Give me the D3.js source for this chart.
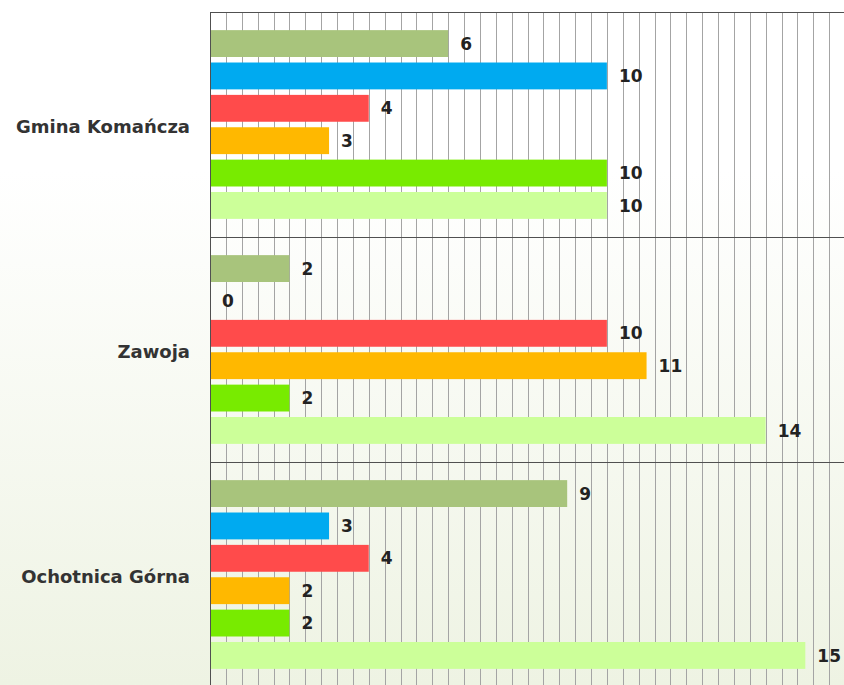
<!DOCTYPE html>
<html>
<head>
<meta charset="utf-8">
<script src="https://cdn.jsdelivr.net/npm/d3@7"></script>
<style>
  html, body { margin: 0; padding: 0; overflow: hidden; }
  body { width: 844px; height: 685px; }
</style>
</head>
<body>
<div id="chart"></div>
<script>
const width = 844;
const height = 685;

const categories = ["Gmina Komańcza", "Zawoja", "Ochotnica Górna"];
const seriesNames = ["Seria 1", "Seria 2", "Seria 3", "Seria 4", "Seria 5", "Seria 6"];
const series1 = [6, 2, 9];
const series2 = [10, 0, 3];
const series3 = [4, 10, 4];
const series4 = [3, 11, 2];
const series5 = [10, 2, 2];
const series6 = [10, 14, 15];
const allSeries = [series1, series2, series3, series4, series5, series6];
const colors = ["#a8c47c", "#00aaf0", "#ff4b4b", "#ffb800", "#78eb00", "#ccff99"];

const xMax = 16;
const gridStep = 0.4;

const svg = d3.select("#chart")
    .append("svg")
    .attr("width", width)
    .attr("height", height);

// background gradient, white on top fading to a pale green
const grad = svg.append("defs").append("linearGradient")
    .attr("id", "bg")
    .attr("x1", 0).attr("y1", 0).attr("x2", 0).attr("y2", 1);
grad.append("stop").attr("offset", "0%").attr("stop-color", "#ffffff");
grad.append("stop").attr("offset", "25%").attr("stop-color", "#ffffff");
grad.append("stop").attr("offset", "100%").attr("stop-color", "#eef3e3");

svg.append("rect")
    .attr("width", width)
    .attr("height", height)
    .attr("fill", "url(#bg)");

const xScale = d3.scaleLinear()
    .domain([0, xMax])
    .range([210, 845]);

const yGroup = d3.scaleBand()
    .domain(categories)
    .range([12, 687]);

const yInner = d3.scaleBand()
    .domain(seriesNames)
    .range([0, yGroup.bandwidth()])
    .paddingInner(0.17)
    .paddingOuter(0.56);

// vertical grid
svg.append("g")
    .selectAll("line")
    .data(d3.range(gridStep, xMax + 1e-9, gridStep))
    .join("line")
    .attr("x1", d => Math.round(xScale(d)) + 0.5)
    .attr("x2", d => Math.round(xScale(d)) + 0.5)
    .attr("y1", yGroup.range()[0])
    .attr("y2", yGroup.range()[1])
    .attr("stroke", "#a4a4a4")
    .attr("stroke-width", 1);

// group separators
svg.append("g")
    .selectAll("line")
    .data(categories)
    .join("line")
    .attr("x1", xScale(0))
    .attr("x2", width)
    .attr("y1", d => Math.round(yGroup(d)) + 0.5)
    .attr("y2", d => Math.round(yGroup(d)) + 0.5)
    .attr("stroke", "#505050")
    .attr("stroke-width", 1);

// bars
const groups = svg.append("g")
    .selectAll("g")
    .data(categories)
    .join("g")
    .attr("transform", d => `translate(0, ${yGroup(d)})`);

groups.each(function(cat, ci) {
    const g = d3.select(this);
    const rows = seriesNames.map((name, si) => ({ name, si, value: allSeries[si][ci] }));

    g.selectAll("rect")
        .data(rows)
        .join("rect")
        .attr("x", xScale(0))
        .attr("y", d => yInner(d.name))
        .attr("width", d => xScale(d.value) - xScale(0))
        .attr("height", yInner.bandwidth())
        .attr("fill", d => colors[d.si]);

    g.selectAll("text")
        .data(rows)
        .join("text")
        .attr("x", d => xScale(d.value) + 12)
        .attr("y", d => yInner(d.name) + yInner.bandwidth() / 2)
        .attr("dy", "0.36em")
        .attr("font-family", "DejaVu Sans, Verdana, sans-serif")
        .attr("font-size", 17)
        .attr("font-weight", "bold")
        .attr("fill", "#222")
        .text(d => d.value);
});

// y axis line
svg.append("line")
    .attr("x1", xScale(0) + 0.5)
    .attr("x2", xScale(0) + 0.5)
    .attr("y1", yGroup.range()[0])
    .attr("y2", yGroup.range()[1])
    .attr("stroke", "#505050");

// category labels
svg.append("g")
    .selectAll("text")
    .data(categories)
    .join("text")
    .attr("x", 190)
    .attr("y", d => yGroup(d) + yGroup.bandwidth() / 2 + 2.5)
    .attr("dy", "0.36em")
    .attr("text-anchor", "end")
    .attr("font-family", "DejaVu Sans, Verdana, sans-serif")
    .attr("font-size", 18)
    .attr("font-weight", "bold")
    .attr("fill", "#333")
    .text(d => d);
</script>
</body>
</html>
